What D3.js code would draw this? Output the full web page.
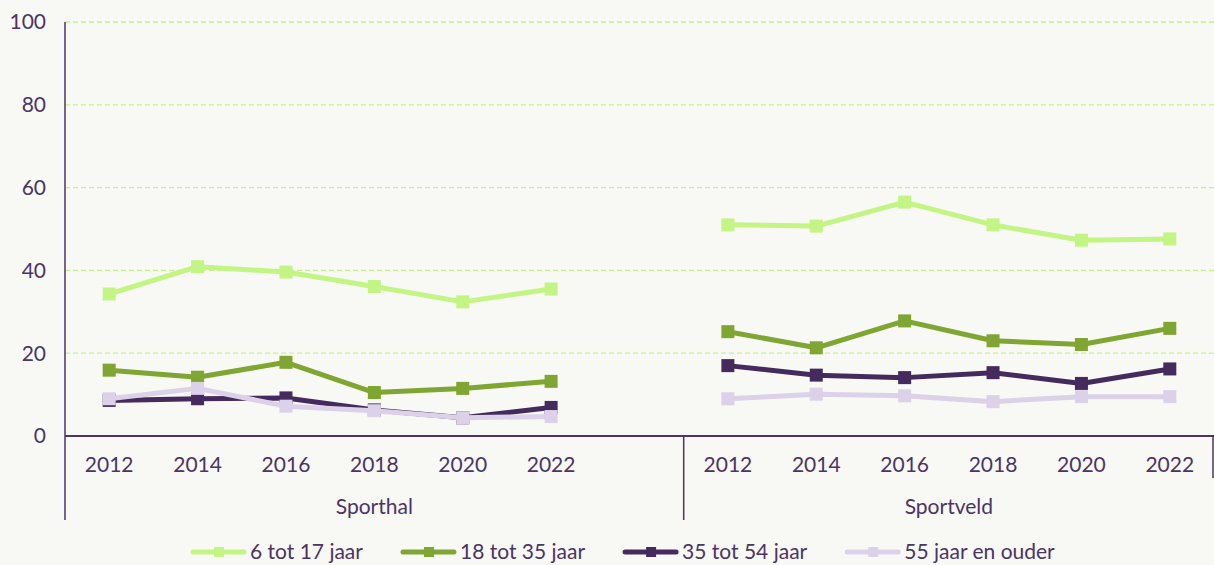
<!DOCTYPE html>
<meta charset="utf-8">
<style>
body { margin: 0; background: #f8f8f4; }
svg { display: block; font-family: Lato, "Open Sans", sans-serif; }
</style>
<script src="https://d3js.org/d3.v7.min.js"></script>
<body>
<svg id="chart" width="1214" height="565"></svg>
<script>

// -------- data --------
var groups = ["Sporthal", "Sportveld"];
var years = ["2012", "2014", "2016", "2018", "2020", "2022"];
var seriesNames = ["6 tot 17 jaar", "18 tot 35 jaar", "35 tot 54 jaar", "55 jaar en ouder"];
var colors = ["#c2f584", "#7fa532", "#452a5e", "#dbd1e9"];
var yTicks = [0, 20, 40, 60, 80, 100];

// values per series, per year
var sporthal617 = [34.3, 40.9, 39.6, 36.1, 32.4, 35.5];
var sporthal1835 = [15.9, 14.2, 17.8, 10.5, 11.5, 13.2];
var sporthal3554 = [8.6, 9.0, 9.2, 6.3, 4.4, 6.9];
var sporthal55 = [9.0, 11.5, 7.2, 6.1, 4.4, 4.7];

var sportveld617 = [51.0, 50.7, 56.5, 51.0, 47.3, 47.6];
var sportveld1835 = [25.2, 21.3, 27.8, 23.0, 22.1, 26.0];
var sportveld3554 = [17.0, 14.7, 14.1, 15.3, 12.7, 16.2];
var sportveld55 = [9.0, 10.1, 9.7, 8.3, 9.5, 9.5];

var seriesData = {
  "Sporthal": [sporthal617, sporthal1835, sporthal3554, sporthal55],
  "Sportveld": [sportveld617, sportveld1835, sportveld3554, sportveld55]
};

// Sporthal has one empty slot at the end
var slots = [];
years.forEach(function(y) { slots.push("Sporthal|" + y); });
slots.push("Sporthal|");
years.forEach(function(y) { slots.push("Sportveld|" + y); });

// -------- layout --------
var plotLeft = 65, plotRight = 1214, plotTop = 22, plotBottom = 436;
var textColor = "#4b3467";
var fontSize = 21;

var svg = d3.select("#chart");

var x = d3.scaleBand().domain(slots).range([plotLeft, plotRight]).paddingInner(0).paddingOuter(0);
var y = d3.scaleLinear().domain([0, 100]).range([plotBottom, plotTop]);

// gridlines
svg.append("g")
  .selectAll("line")
  .data(yTicks.filter(function(d) { return d > 0; }))
  .enter().append("line")
    .attr("x1", plotLeft).attr("x2", plotRight)
    .attr("y1", function(d) { return y(d); })
    .attr("y2", function(d) { return y(d); })
    .attr("stroke", "#c2f584")
    .attr("stroke-width", 1.3)
    .attr("stroke-dasharray", "5,3");

// y axis labels
svg.append("g")
  .selectAll("text")
  .data(yTicks)
  .enter().append("text")
    .attr("x", 46)
    .attr("y", function(d) { return y(d); })
    .attr("dy", "0.35em")
    .attr("text-anchor", "end")
    .attr("fill", textColor)
    .attr("font-size", fontSize)
    .text(function(d) { return d; });

// axis lines
svg.append("line")
  .attr("x1", plotLeft).attr("x2", plotLeft).attr("y1", plotTop).attr("y2", 520)
  .attr("stroke", textColor).attr("stroke-width", 1.5);
svg.append("line")
  .attr("x1", plotLeft).attr("x2", plotRight).attr("y1", plotBottom).attr("y2", plotBottom)
  .attr("stroke", textColor).attr("stroke-width", 1.8);

var divX = x("Sportveld|2012");
svg.append("line")
  .attr("x1", divX).attr("x2", divX).attr("y1", plotBottom).attr("y2", 520)
  .attr("stroke", textColor).attr("stroke-width", 1.5);
svg.append("line")
  .attr("x1", plotRight - 1).attr("x2", plotRight - 1).attr("y1", plotBottom).attr("y2", 478)
  .attr("stroke", textColor).attr("stroke-width", 1.5);

// year tick labels
svg.append("g")
  .selectAll("text")
  .data(slots)
  .enter().append("text")
    .attr("x", function(d) { return x(d) + x.bandwidth() / 2; })
    .attr("y", 465)
    .attr("dy", "0.35em")
    .attr("text-anchor", "middle")
    .attr("fill", textColor)
    .attr("font-size", fontSize)
    .text(function(d) { return d.split("|")[1]; });

// group labels
svg.append("g")
  .selectAll("text")
  .data(groups)
  .enter().append("text")
    .attr("x", function(g) {
      var keys = slots.filter(function(s) { return s.indexOf(g + "|") === 0; });
      return (x(keys[0]) + x(keys[keys.length - 1]) + x.bandwidth()) / 2;
    })
    .attr("y", 507)
    .attr("dy", "0.35em")
    .attr("text-anchor", "middle")
    .attr("fill", textColor)
    .attr("font-size", fontSize)
    .text(function(g) { return g; });

// lines + markers
var line = d3.line()
  .x(function(d) { return x(d.key) + x.bandwidth() / 2; })
  .y(function(d) { return y(d.value); });

var ms = 13;
seriesNames.forEach(function(name, i) {
  groups.forEach(function(g) {
    var pts = seriesData[g][i].map(function(v, j) {
      return { key: g + "|" + years[j], value: v };
    });
    var s = svg.append("g");
    s.append("path")
      .datum(pts)
      .attr("d", line)
      .attr("fill", "none")
      .attr("stroke", colors[i])
      .attr("stroke-width", 5)
      .attr("stroke-linejoin", "round");
    s.selectAll("rect")
      .data(pts)
      .enter().append("rect")
        .attr("x", function(d) { return x(d.key) + x.bandwidth() / 2 - ms / 2; })
        .attr("y", function(d) { return y(d.value) - ms / 2; })
        .attr("width", ms).attr("height", ms)
        .attr("fill", colors[i]);
  });
});

// legend
var legend = svg.append("g");
var lx = 191, ly = 552;
seriesNames.forEach(function(name, i) {
  var item = legend.append("g").attr("transform", "translate(" + lx + "," + ly + ")");
  item.append("line")
    .attr("x1", 2).attr("x2", 53).attr("y1", 0).attr("y2", 0)
    .attr("stroke", colors[i]).attr("stroke-width", 5).attr("stroke-linecap", "round");
  item.append("rect")
    .attr("x", 23).attr("y", -5).attr("width", 10).attr("height", 10)
    .attr("fill", colors[i]);
  var t = item.append("text")
    .attr("x", 59).attr("y", 0).attr("dy", "0.35em")
    .attr("fill", textColor).attr("font-size", fontSize)
    .text(name);
  lx += 59 + t.node().getComputedTextLength() + 38;
});

</script>
</body>
